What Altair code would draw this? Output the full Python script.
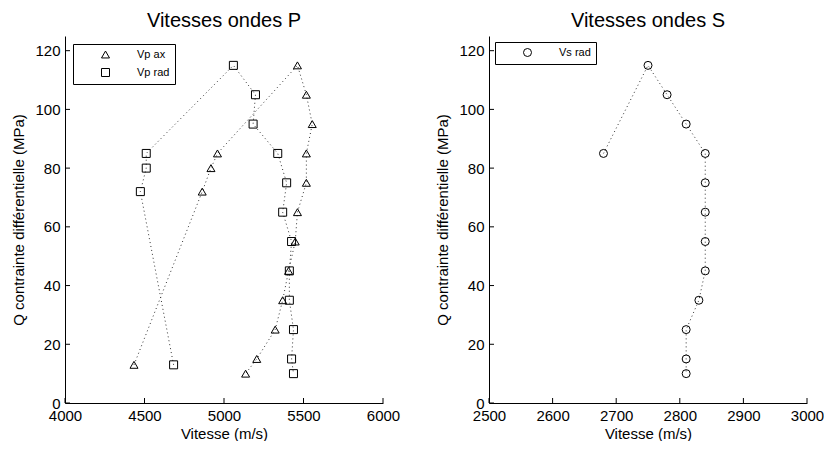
import altair as alt
import pandas as pd

# ---- data ----
Q_P = [13, 72, 80, 85, 115, 105, 95, 85, 75, 65, 55, 45, 35, 25, 15, 10]
VP_AX = [4434, 4863, 4918, 4959, 5462, 5518, 5555, 5518, 5518, 5462, 5448, 5406, 5369, 5322, 5206, 5136]
VP_RAD = [4683, 4474, 4511, 4511, 5059, 5198, 5183, 5338, 5394, 5369, 5425, 5411, 5411, 5437, 5425, 5437]

Q_S = [85, 115, 105, 95, 85, 75, 65, 55, 45, 35, 25, 15, 10]
VS_RAD = [2680, 2750, 2780, 2810, 2840, 2840, 2840, 2840, 2840, 2830, 2810, 2810, 2810]

P_SERIES = ["Vp ax", "Vp rad"]
P_SHAPES = ["triangle-up", "square"]
S_SERIES = ["Vs rad"]
S_SHAPES = ["circle"]

P_XTICKS = [4000, 4500, 5000, 5500, 6000]
S_XTICKS = [2500, 2600, 2700, 2800, 2900, 3000]
YTICKS = [0, 20, 40, 60, 80, 100, 120]

TITLE_P = "Vitesses ondes P"
TITLE_S = "Vitesses ondes S"
XTITLE = "Vitesse (m/s)"
YTITLE = "Q contrainte différentielle (MPa)"

FONT = "Liberation Sans"
W, H = 318, 367
YDOM = [0, 125]


def frame(series_list):
    rows = []
    for name, xs, qs in series_list:
        for i, (x, q) in enumerate(zip(xs, qs)):
            rows.append({"s": name, "v": x, "q": q, "i": i})
    return pd.DataFrame(rows)


def panel(df, series, shapes, xdom, xticks, title, loff):
    xscale = alt.Scale(domain=xdom, nice=False, zero=False)
    yscale = alt.Scale(domain=YDOM, nice=False, zero=True)
    xaxis = alt.Axis(values=xticks, title=XTITLE, ticks=False, grid=False,
                     labelFlush=False, labelOverlap=False, format="d",
                     labelPadding=5, titlePadding=3)
    yaxis = alt.Axis(values=YTICKS, title=YTITLE, ticks=False, grid=False,
                     labelPadding=5, titlePadding=8)
    x = alt.X("v:Q", scale=xscale, axis=xaxis)
    y = alt.Y("q:Q", scale=yscale, axis=yaxis)

    lines = alt.Chart(df).mark_line(
        strokeDash=[1, 3], color="#333333", strokeWidth=1
    ).encode(x=x, y=y, detail="s:N", order="i:Q")

    points = alt.Chart(df).mark_point(
        filled=False, color="black", strokeWidth=1, size=64, opacity=1
    ).encode(
        x=x, y=y,
        shape=alt.Shape("s:N", scale=alt.Scale(domain=series, range=shapes),
                        legend=alt.Legend(
                            title=None, orient="top-left", offset=loff,
                            strokeColor="black", fillColor="white",
                            padding=5, rowPadding=6, cornerRadius=0,
                            labelFont=FONT, labelFontSize=11, labelColor="black",
                            symbolStrokeColor="black", symbolStrokeWidth=1,
                            symbolSize=64, symbolOffset=22, labelOffset=26)),
    )

    xt = alt.Chart(pd.DataFrame({"v": xticks})).mark_rule(
        color="black", strokeWidth=1
    ).encode(x=alt.X("v:Q", scale=xscale), y=alt.value(H), y2=alt.value(H - 5))
    yt = alt.Chart(pd.DataFrame({"q": YTICKS})).mark_rule(
        color="black", strokeWidth=1
    ).encode(y=alt.Y("q:Q", scale=yscale), x=alt.value(0), x2=alt.value(5))

    return alt.layer(lines, points, xt, yt).properties(
        width=W, height=H,
        title=alt.Title(title, fontSize=20, fontWeight="normal", font=FONT,
                        color="black", anchor="middle", frame="group", offset=5),
    )


dfP = frame([("Vp ax", VP_AX, Q_P), ("Vp rad", VP_RAD, Q_P)])
dfS = frame([("Vs rad", VS_RAD, Q_S)])

left = panel(dfP, P_SERIES, P_SHAPES, [4000, 6000], P_XTICKS, TITLE_P, 8)
right = panel(dfS, S_SERIES, S_SHAPES, [2500, 3000], S_XTICKS, TITLE_S, 6)

chart = alt.hconcat(left, right, spacing=35).resolve_scale(
    shape="independent", x="independent", y="independent"
).resolve_legend(shape="independent").configure_view(
    stroke=None
).configure_axis(
    domainColor="black", domainWidth=1,
    labelFont=FONT, labelFontSize=15, labelColor="black",
    titleFont=FONT, titleFontSize=15, titleColor="black", titleFontWeight="normal",
).properties(background="white",
             padding={"left": 3, "top": 3, "right": 0, "bottom": 0})

chart.save("out.html", embed_options={"renderer": "svg", "actions": False})
